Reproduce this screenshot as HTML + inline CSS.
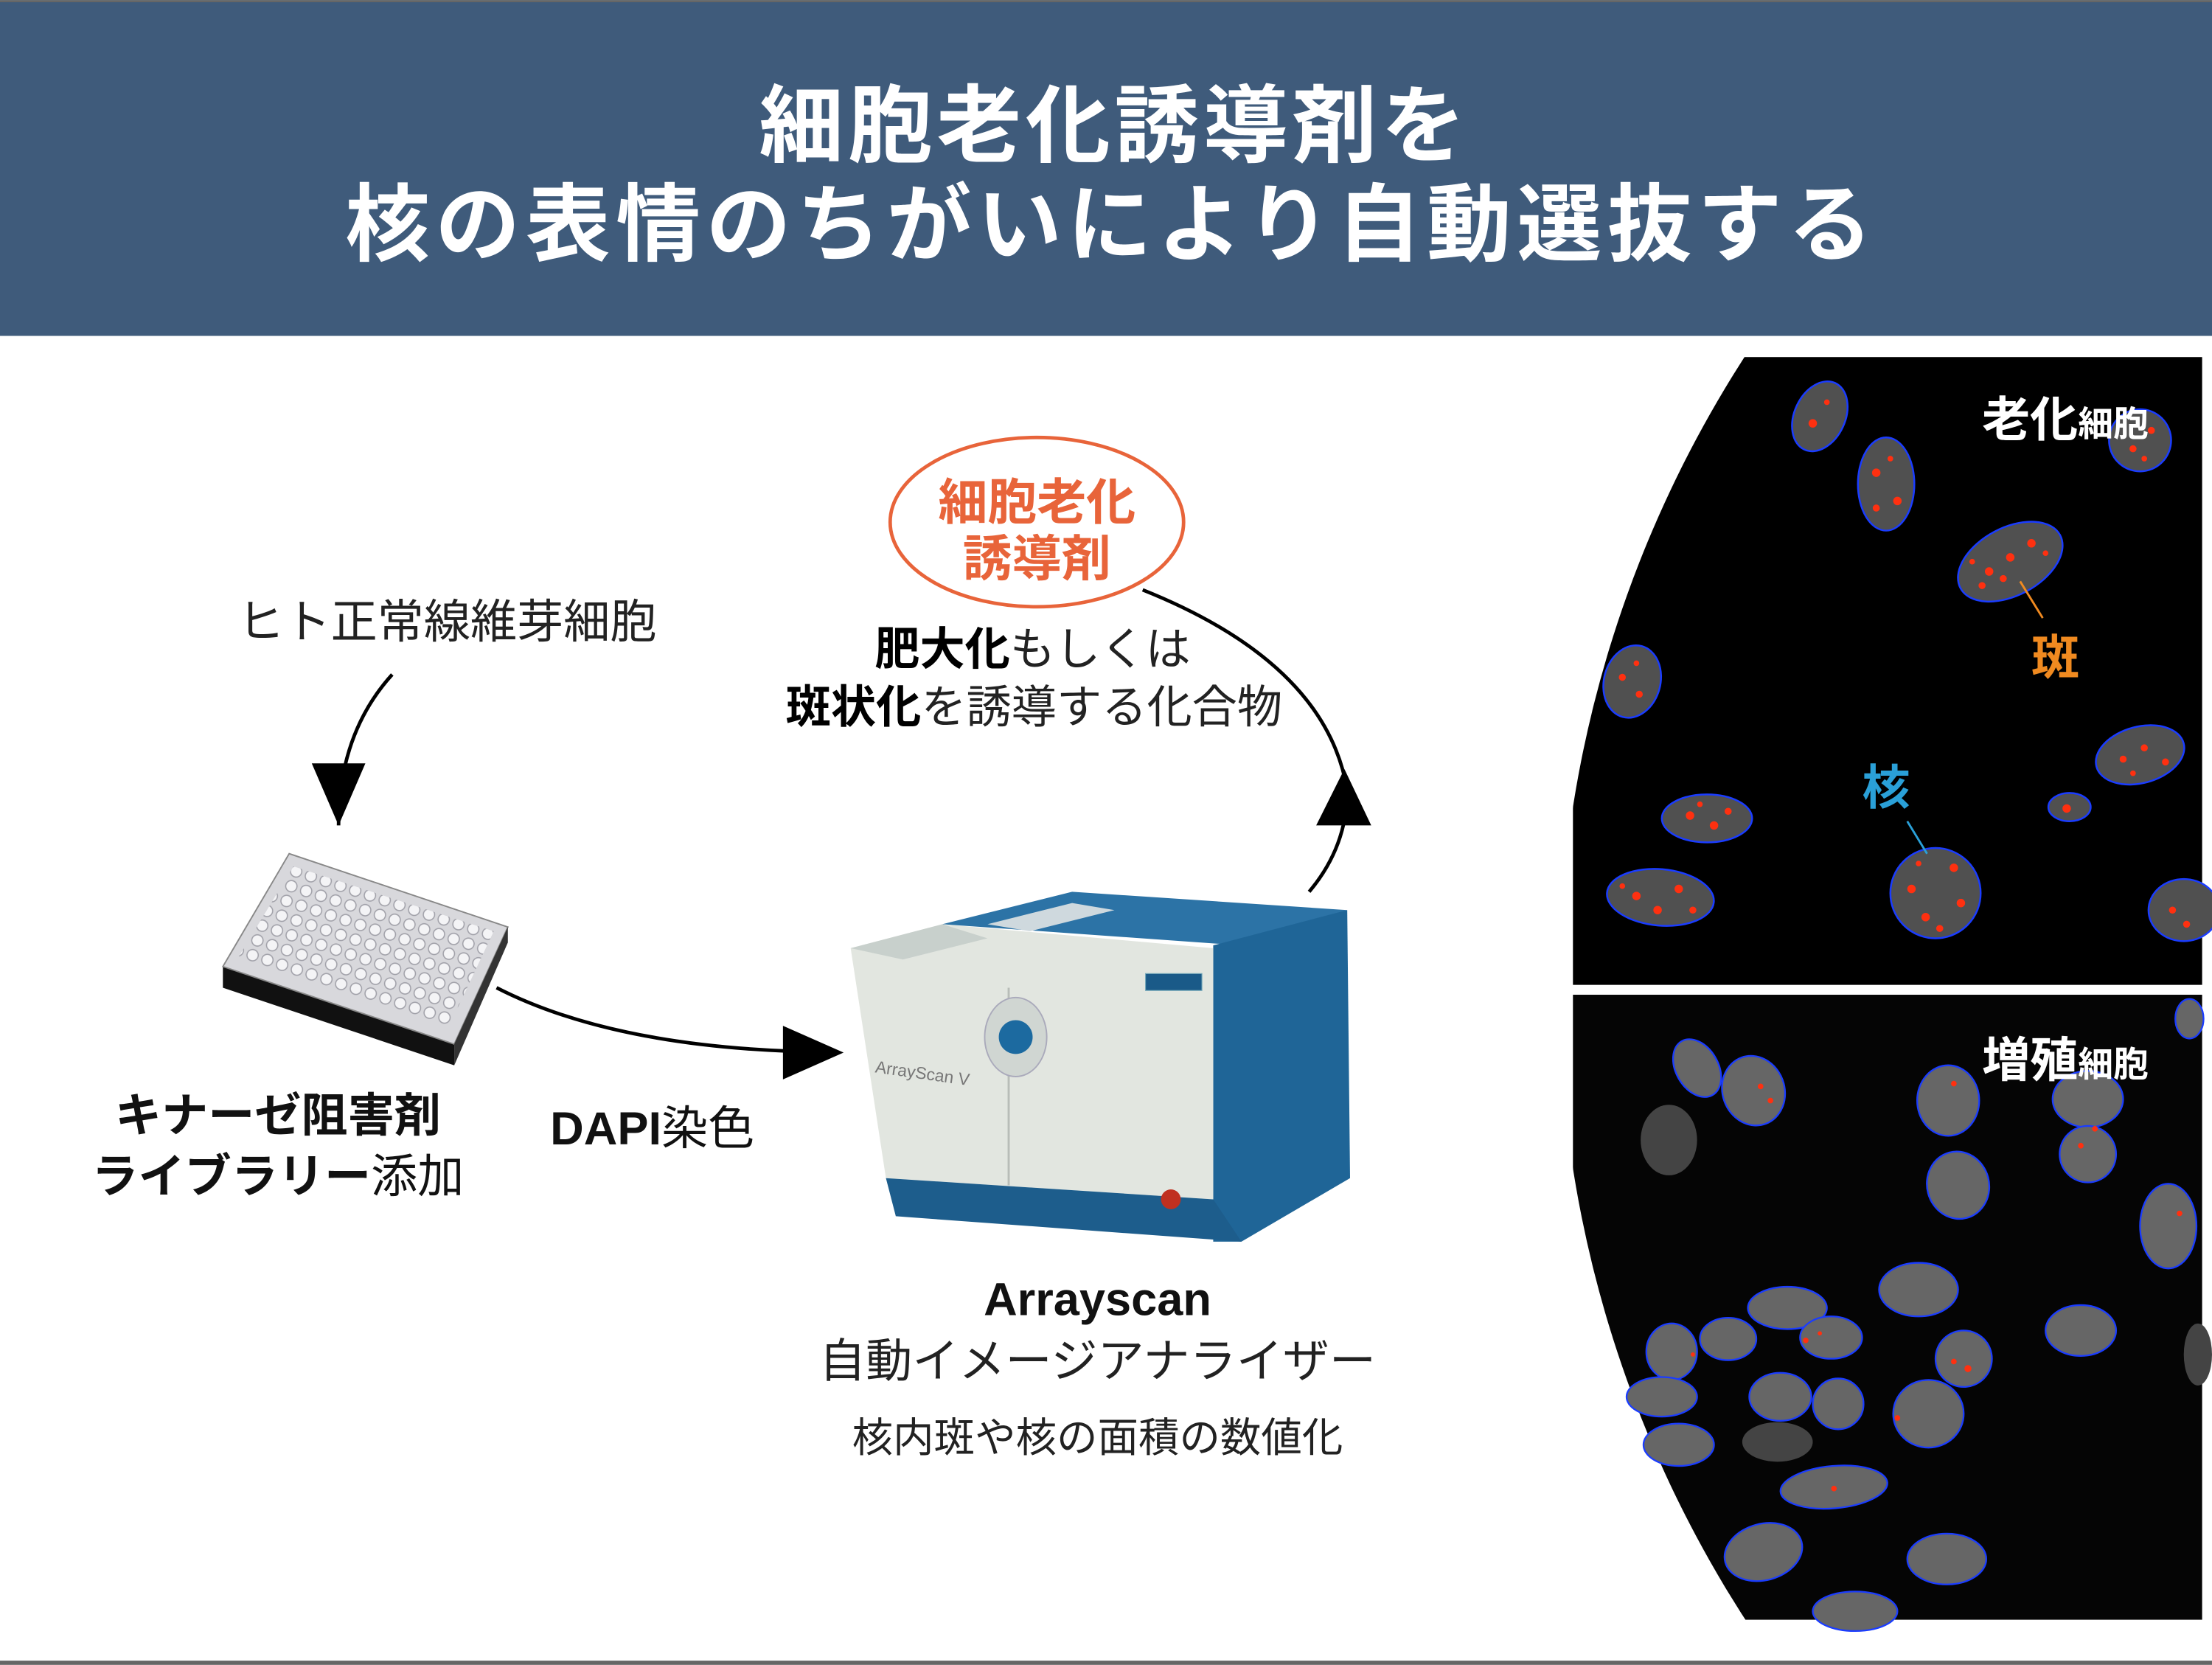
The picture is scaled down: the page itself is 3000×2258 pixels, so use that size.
<!DOCTYPE html>
<html><head><meta charset="utf-8"><style>
html,body{margin:0;padding:0;background:#fff}
svg{display:block}
text{font-family:"Liberation Sans","Noto Sans CJK JP",sans-serif}
</style></head><body>
<svg width="3000" height="2258" viewBox="0 0 1568 1180" xmlns="http://www.w3.org/2000/svg">
<defs>
<clipPath id="circ"><circle cx="1930" cy="700" r="825"/></clipPath>
<pattern id="wells" width="11" height="11" patternUnits="userSpaceOnUse" patternTransform="rotate(18)"><circle cx="5.5" cy="5.5" r="4" fill="#f4f4f6" stroke="#a0a0a8" stroke-width="0.8"/></pattern>
</defs>
<rect width="1568" height="1180" fill="#fff"/>
<rect x="0" y="0" width="1568" height="238" fill="#3f5b7b"/>
<rect x="0" y="0" width="1568" height="1.5" fill="#666"/>
<text x="790" y="110" font-size="60" font-weight="bold" fill="#fff" text-anchor="middle" letter-spacing="3">細胞老化誘導剤を</text>
<text x="788" y="180" font-size="60" font-weight="bold" fill="#fff" text-anchor="middle" letter-spacing="4">核の表情のちがいにより自動選抜する</text>

<g clip-path="url(#circ)">
<rect x="1115" y="253" width="446" height="445" fill="#000"/>
<rect x="1115" y="705" width="446" height="443" fill="#050505"/>
</g>
<g stroke="#1a3cff" stroke-width="1.3" fill="#505050">
<ellipse cx="1290" cy="295" rx="18" ry="26" transform="rotate(25 1290 295)"/>
<ellipse cx="1337" cy="343" rx="20" ry="33"/>
<ellipse cx="1425" cy="398" rx="40" ry="24" transform="rotate(-28 1425 398)"/>
<ellipse cx="1157" cy="483" rx="20" ry="26" transform="rotate(15 1157 483)"/>
<ellipse cx="1210" cy="580" rx="32" ry="17"/>
<ellipse cx="1177" cy="636" rx="38" ry="20" transform="rotate(5 1177 636)"/>
<ellipse cx="1372" cy="633" rx="32" ry="32"/>
<ellipse cx="1517" cy="535" rx="32" ry="20" transform="rotate(-15 1517 535)"/>
<ellipse cx="1467" cy="572" rx="15" ry="10"/>
<ellipse cx="1548" cy="645" rx="25" ry="22"/>
<ellipse cx="1517" cy="312" rx="22" ry="22"/>
</g>
<g fill="#ff3010">
<circle cx="1285" cy="300" r="3"/><circle cx="1295" cy="285" r="2"/><circle cx="1330" cy="335" r="3"/><circle cx="1345" cy="355" r="3"/><circle cx="1330" cy="360" r="2.5"/><circle cx="1340" cy="325" r="2"/>
<circle cx="1410" cy="405" r="3"/><circle cx="1425" cy="395" r="3"/><circle cx="1440" cy="385" r="3"/><circle cx="1405" cy="415" r="2.5"/><circle cx="1450" cy="392" r="2"/><circle cx="1420" cy="410" r="2.5"/><circle cx="1398" cy="398" r="2"/>
<circle cx="1150" cy="480" r="2.5"/><circle cx="1162" cy="492" r="2.5"/><circle cx="1160" cy="470" r="2"/>
<circle cx="1198" cy="578" r="3"/><circle cx="1215" cy="585" r="3"/><circle cx="1225" cy="575" r="2.5"/><circle cx="1205" cy="570" r="2"/>
<circle cx="1160" cy="635" r="3"/><circle cx="1175" cy="645" r="3"/><circle cx="1190" cy="630" r="3"/><circle cx="1200" cy="645" r="2.5"/><circle cx="1150" cy="628" r="2"/>
<circle cx="1355" cy="630" r="3"/><circle cx="1365" cy="650" r="3"/><circle cx="1385" cy="615" r="3"/><circle cx="1390" cy="640" r="3"/><circle cx="1375" cy="658" r="2.5"/><circle cx="1360" cy="612" r="2"/>
<circle cx="1505" cy="538" r="2.5"/><circle cx="1520" cy="530" r="2.5"/><circle cx="1535" cy="540" r="2.5"/><circle cx="1512" cy="548" r="2"/>
<circle cx="1465" cy="573" r="3"/>
<circle cx="1540" cy="645" r="2.5"/><circle cx="1550" cy="655" r="2.5"/><circle cx="1512" cy="318" r="2.5"/><circle cx="1525" cy="305" r="2.5"/><circle cx="1520" cy="325" r="2"/>
</g>
<g stroke="#1a3cff" stroke-width="1.2" fill="#666">
<ellipse cx="1203" cy="757" rx="15" ry="22" transform="rotate(-30 1203 757)"/>
<ellipse cx="1243" cy="773" rx="22" ry="25" transform="rotate(-20 1243 773)"/>
<ellipse cx="1381" cy="780" rx="22" ry="25"/>
<ellipse cx="1388" cy="840" rx="22" ry="24" transform="rotate(-15 1388 840)"/>
<ellipse cx="1480" cy="779" rx="25" ry="20"/>
<ellipse cx="1480" cy="818" rx="20" ry="20"/>
<ellipse cx="1537" cy="869" rx="20" ry="30"/>
<ellipse cx="1475" cy="943" rx="25" ry="18"/>
<ellipse cx="1360" cy="914" rx="28" ry="19"/>
<ellipse cx="1367" cy="1002" rx="25" ry="24"/>
<ellipse cx="1392" cy="963" rx="20" ry="20"/>
<ellipse cx="1267" cy="927" rx="28" ry="15"/>
<ellipse cx="1225" cy="949" rx="20" ry="15"/>
<ellipse cx="1298" cy="948" rx="22" ry="15"/>
<ellipse cx="1185" cy="958" rx="18" ry="20"/>
<ellipse cx="1178" cy="990" rx="25" ry="14"/>
<ellipse cx="1190" cy="1024" rx="25" ry="15"/>
<ellipse cx="1262" cy="990" rx="22" ry="17"/>
<ellipse cx="1303" cy="995" rx="18" ry="18"/>
<ellipse cx="1300" cy="1054" rx="38" ry="15" transform="rotate(-5 1300 1054)"/>
<ellipse cx="1250" cy="1100" rx="28" ry="20" transform="rotate(-15 1250 1100)"/>
<ellipse cx="1380" cy="1105" rx="28" ry="18"/>
<ellipse cx="1315" cy="1142" rx="30" ry="14"/>
<ellipse cx="1552" cy="722" rx="10" ry="14"/>
</g>
<g fill="#444"><ellipse cx="1183" cy="808" rx="20" ry="25"/><ellipse cx="1260" cy="1022" rx="25" ry="14"/><ellipse cx="1558" cy="960" rx="10" ry="22"/></g>
<g fill="#ff3010"><circle cx="1248" cy="770" r="2"/><circle cx="1255" cy="780" r="2"/><circle cx="1385" cy="768" r="2"/><circle cx="1485" cy="800" r="2"/><circle cx="1475" cy="812" r="2"/><circle cx="1545" cy="860" r="2"/><circle cx="1385" cy="965" r="2"/><circle cx="1395" cy="970" r="2.5"/><circle cx="1280" cy="950" r="2"/><circle cx="1300" cy="1055" r="2"/><circle cx="1345" cy="1005" r="2"/><circle cx="1290" cy="945" r="1.5"/><circle cx="1200" cy="960" r="1.5"/></g>
<text x="1405" y="309" font-size="34" font-weight="bold" fill="#fff">老化<tspan font-size="25">細胞</tspan></text>
<text x="1405" y="763" font-size="34" font-weight="bold" fill="#fff">増殖<tspan font-size="25">細胞</tspan></text>
<line x1="1432" y1="412" x2="1448" y2="438" stroke="#f08a20" stroke-width="1.5"/>
<text x="1440" y="478" font-size="34" font-weight="bold" fill="#f08a20">斑</text>
<line x1="1352" y1="582" x2="1366" y2="605" stroke="#2aa0d8" stroke-width="1.5"/>
<text x="1320" y="570" font-size="34" font-weight="bold" fill="#2aa0d8">核</text>
<rect x="0" y="1177" width="1568" height="3" fill="#666"/>

<polygon points="158,685 322,740 322,755 158,700" fill="#111"/>
<polygon points="158,685 205,605 360,657 322,740" fill="#d8d8dc" stroke="#888" stroke-width="1"/>
<polygon points="168,680 208,614 350,660 318,728" fill="url(#wells)"/>
<polygon points="322,740 360,657 360,668 322,755" fill="#333"/>

<polygon points="668,655 760,632 955,645 880,670" fill="#2c73a6"/>
<polygon points="700,655 760,640 790,645 730,660" fill="#cfd9de"/>
<polygon points="860,670 955,645 957,835 880,880 860,880" fill="#1f6597"/>
<polygon points="603,672 668,655 860,672 860,850 628,835" fill="#e2e6e0"/>
<polygon points="603,672 668,655 700,665 640,680" fill="#c8d0cc"/>
<polygon points="628,835 860,850 880,880 635,862" fill="#1d5d8c"/>
<line x1="715" y1="700" x2="715" y2="840" stroke="#b8bdb8" stroke-width="1.5"/>
<ellipse cx="720" cy="735" rx="22" ry="28" fill="#d0d6d2" stroke="#aab" stroke-width="1"/>
<circle cx="720" cy="735" r="12" fill="#1c6aa0"/>
<circle cx="830" cy="850" r="7" fill="#c03020"/>
<text x="620" y="760" font-size="12" fill="#777" transform="rotate(8 620 760)">ArrayScan V</text>
<rect x="812" y="690" width="40" height="12" fill="#1a5a88" stroke="#7ab" stroke-width="0.6"/>

<path d="M278,478 Q240,520 240,585" fill="none" stroke="#000" stroke-width="2.5"/>
<polygon points="221,541 259,541 240,585" fill="#000"/>
<path d="M352,700 Q430,740 560,745" fill="none" stroke="#000" stroke-width="2.5"/>
<polygon points="555,727 598,746 555,765" fill="#000"/>
<path d="M810,418 Q940,470 955,560 Q955,600 928,632" fill="none" stroke="#000" stroke-width="2.5"/>
<polygon points="933,585 972,585 953,545" fill="#000"/>

<ellipse cx="735" cy="370" rx="104" ry="60" fill="#fff" stroke="#e8643a" stroke-width="2.5"/>
<text x="735" y="368" font-size="35" font-weight="bold" fill="#e8643a" text-anchor="middle">細胞老化</text>
<text x="735" y="408" font-size="35" font-weight="bold" fill="#e8643a" text-anchor="middle">誘導剤</text>
<text x="317" y="452" font-size="33" fill="#222" text-anchor="middle">ヒト正常線維芽細胞</text>
<text x="732" y="471" font-size="32" fill="#222" text-anchor="middle"><tspan font-weight="bold" fill="#000">肥大化</tspan>もしくは</text>
<text x="733" y="512" font-size="32" fill="#222" text-anchor="middle"><tspan font-weight="bold" fill="#000">斑状化</tspan>を誘導する化合物</text>
<text x="197" y="802" font-size="33" font-weight="bold" fill="#111" text-anchor="middle">キナーゼ阻害剤</text>
<text x="197" y="845" font-size="33" fill="#111" text-anchor="middle"><tspan font-weight="bold">ライブラリー</tspan>添加</text>
<text x="390" y="811" font-size="33" fill="#111"><tspan font-weight="bold">DAPI</tspan>染色</text>
<text x="778" y="932" font-size="33" font-weight="bold" fill="#111" text-anchor="middle">Arrayscan</text>
<text x="778" y="976" font-size="33" fill="#222" text-anchor="middle">自動イメージアナライザー</text>
<text x="778" y="1029" font-size="29" fill="#222" text-anchor="middle">核内斑や核の面積の数値化</text>
</svg>
</body></html>
